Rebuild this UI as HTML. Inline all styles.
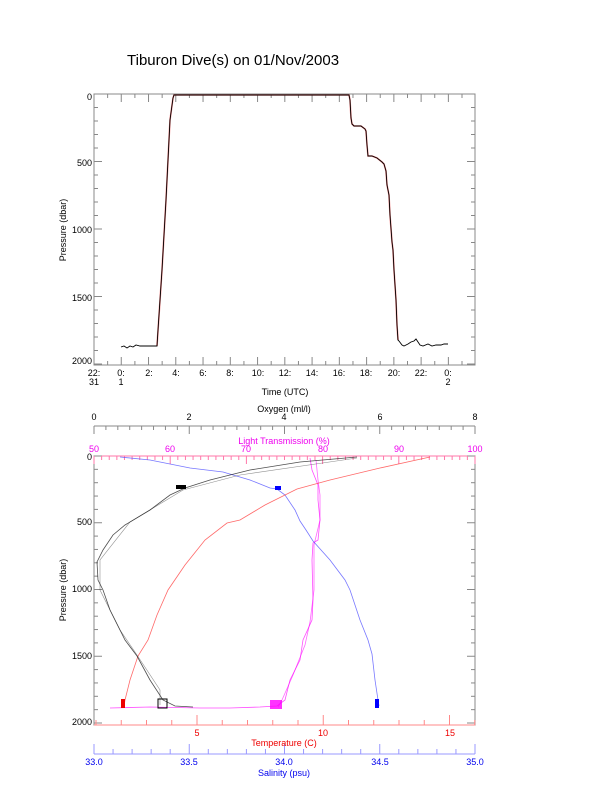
<!DOCTYPE html>
<html><head><meta charset="utf-8"><style>body{margin:0;background:#fff}svg{display:block}text{font-family:"Liberation Sans",sans-serif;font-size:9px}</style></head><body>
<svg width="612" height="785" viewBox="0 0 612 785" xmlns="http://www.w3.org/2000/svg">
<rect width="612" height="785" fill="#fff"/>
<text x="127" y="65" style="font-size:15px">Tiburon Dive(s) on 01/Nov/2003</text>
<!-- top chart -->
<rect x="94" y="94" width="381" height="271" fill="none" stroke="#888" stroke-width="1"/>
<g stroke="#888" stroke-width="1" id="tt"></g>
<g text-anchor="end">
<text x="92" y="100">0</text><text x="92" y="166">500</text><text x="92" y="233">1000</text><text x="92" y="301">1500</text><text x="92" y="364">2000</text>
</g>
<g text-anchor="middle">
<text x="94" y="376">22:</text><text x="94" y="385">31</text>
<text x="121" y="376">0:</text><text x="121" y="385">1</text>
<text x="149" y="376">2:</text><text x="176" y="376">4:</text><text x="203" y="376">6:</text><text x="230" y="376">8:</text><text x="258" y="376">10:</text><text x="285" y="376">12:</text><text x="312" y="376">14:</text><text x="339" y="376">16:</text><text x="366" y="376">18:</text><text x="394" y="376">20:</text><text x="421" y="376">22:</text>
<text x="448" y="376">0:</text><text x="448" y="385">2</text>
<text x="285" y="395">Time (UTC)</text>
</g>
<text transform="translate(66,230) rotate(-90)" text-anchor="middle">Pressure (dbar)</text>
<polyline fill="none" stroke="#e33" stroke-width="1.6" opacity="0.6" points="157,346 162,270 166,200 170,120 173,98 174,95 349,95 350,100 351,118 352,124 354,126 361,126 365,129 366,131 367,145 368,156 372,156 377,158 382,162 384,164 386,171 387,185 389,195 390,215 392,242 393,250 394,270 396,300 397,325 398,340"/>
<polyline fill="none" stroke="#000" stroke-width="0.9" points="121,347 124,346 127,348 130,346 133,347 136,345 140,346 157,346 158,330 162,270 166,200 170,120 173,98 174,95 349,95 350,100 351,118 352,124 354,126 361,126 365,129 366,131 367,145 368,156 372,156 377,158 382,162 384,164 386,171 387,185 389,195 390,215 392,242 393,250 394,270 396,300 397,325 398,340 399,341 402,345 404,346 408,344 411,342 414,341 416,339 418,342 420,345 423,346 428,344 432,346 436,345 441,345 444,344 448,344"/>
<!-- bottom chart -->
<rect x="94" y="456" width="381" height="269" fill="none" stroke="#888"/>
<line x1="94" y1="456" x2="475" y2="456" stroke="#f7a"/>
<line x1="94" y1="725" x2="475" y2="725" stroke="#f88"/>
<line x1="94" y1="426" x2="475" y2="426" stroke="#888"/>
<line x1="94" y1="754" x2="475" y2="754" stroke="#99f"/>
<g id="bt"></g>
<g text-anchor="middle">
<text x="94" y="420">0</text><text x="189" y="420">2</text><text x="284" y="420">4</text><text x="380" y="420">6</text><text x="475" y="420">8</text>
<text x="284" y="412">Oxygen (ml/l)</text>
<g fill="#e0e"><text x="284" y="444">Light Transmission (%)</text>
<text x="94" y="452">50</text><text x="170" y="452">60</text><text x="246" y="452">70</text><text x="323" y="452">80</text><text x="399" y="452">90</text><text x="475" y="452">100</text></g>
<g fill="#e00"><text x="197" y="736">5</text><text x="323" y="736">10</text><text x="450" y="736">15</text><text x="284" y="746">Temperature (C)</text></g>
<g fill="#00e"><text x="94" y="765">33.0</text><text x="189" y="765">33.5</text><text x="284" y="765">34.0</text><text x="380" y="765">34.5</text><text x="475" y="765">35.0</text><text x="284" y="776">Salinity (psu)</text></g>
</g>
<g text-anchor="end">
<text x="92" y="460">0</text><text x="92" y="525">500</text><text x="92" y="592">1000</text><text x="92" y="659">1500</text><text x="92" y="725">2000</text>
</g>
<text transform="translate(66,590) rotate(-90)" text-anchor="middle">Pressure (dbar)</text>
<!-- light transmission -->
<polyline fill="none" stroke="#f0f" stroke-width="0.8" opacity="0.7" points="310,458 312,470 318,485 318,500 320,520 318,540 313,543 312,560 313,600 312,620 303,640 300,660 290,680 285,700 277,706 260,707 230,708 200,708 150,707 110,708"/>
<polyline fill="none" stroke="#f0f" stroke-width="0.8" opacity="0.6" points="316,460 318,480 320,495 320,520 314,545 314,590 310,622 305,645 293,675 282,700 278,707"/>
<rect x="270" y="700" width="12" height="9" fill="#f0f" opacity="0.8"/>
<!-- salinity -->
<polyline fill="none" stroke="#55f" stroke-width="0.8" opacity="0.8" points="120,457 150,460 190,468 223,472 250,480 270,488 277,489 285,495 295,510 300,521 306,530 313,541 330,560 345,580 350,590 360,620 368,640 372,654 375,680 378,700 379,706"/>
<rect x="375" y="699" width="4" height="9" fill="#00f"/>
<rect x="275" y="486" width="6" height="4" fill="#00f"/>
<!-- temperature -->
<polyline fill="none" stroke="#f44" stroke-width="0.8" opacity="0.8" points="430,457 380,468 330,480 297,489 265,505 240,520 227,523 205,540 185,565 168,590 157,615 148,640 138,656 130,680 125,700 124,706"/>
<rect x="121" y="699" width="4" height="9" fill="#e00"/>
<!-- oxygen -->
<polyline fill="none" stroke="#222" stroke-width="0.8" opacity="0.8" points="357,457 300,462 250,470 210,480 185,488 170,495 150,510 125,525 113,535 103,550 97,562 98,580 103,590 110,610 125,640 137,656 150,680 163,700 175,706 193,707"/>
<polyline fill="none" stroke="#222" stroke-width="0.6" opacity="0.5" points="357,458 240,475 183,490 130,522 100,560 100,590 120,630 135,652 160,690 160,705"/>
<rect x="158" y="699" width="9" height="9" fill="none" stroke="#000"/>
<rect x="176" y="485" width="10" height="4" fill="#000"/>
</svg>
<script>
(function(){
var ns="http://www.w3.org/2000/svg";
function L(g,x1,y1,x2,y2,c){var l=document.createElementNS(ns,"line");l.setAttribute("x1",x1);l.setAttribute("y1",y1);l.setAttribute("x2",x2);l.setAttribute("y2",y2);l.setAttribute("stroke",c);g.appendChild(l);}
var t=document.getElementById("tt"),b=document.getElementById("bt");
for(var p=0;p<=2000;p+=100){var y=94+p*0.135,len=p%500?4:8;L(t,94,y,94+len,y,"#888");L(t,475,y,475-len,y,"#888");
var y2=456+p*0.1335;L(b,94,y2,94+len,y2,"#888");L(b,475,y2,475-len,y2,"#888");}
for(var h=0;h<=28;h++){var x=94+h*13.63,len=h%2?4:8;if(x>475)break;L(t,x,365,x,365-len,"#888");L(t,x,94,x,94+len,"#888");}
for(var i=0;i<=32;i++){var x=94+i*381/32;L(b,x,426,x,426+(i%8?4:8),"#888");}
for(var i=0;i<=50;i++){var x=94+i*381/50;L(b,x,456,x,456+(i%10?4:8),"#f7a");}
for(var T=1;T<=16;T++){var x=197+(T-5)*25.25;if(x<94||x>475)continue;L(b,x,725,x,725-(T%5?5:10),"#f88");}
for(var i=0;i<=20;i++){var x=94+i*381/20;L(b,x,754,x,754-(i%5?5:10),"#99f");}
})();
</script>
</body></html>
